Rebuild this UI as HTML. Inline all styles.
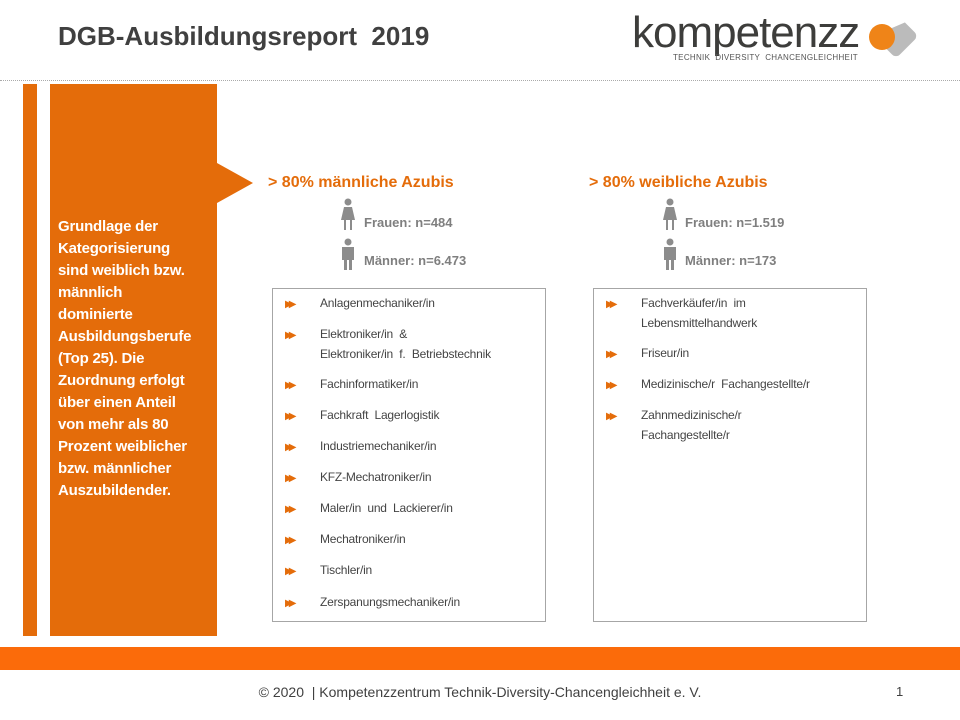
<!DOCTYPE html>
<html><head><meta charset="utf-8"><style>
body{margin:0;width:960px;height:720px;position:relative;background:#fff;font-family:"Liberation Sans",sans-serif;overflow:hidden}
.a{position:absolute}
.t{font-size:12px;color:#444;line-height:20px;letter-spacing:-0.2px}
.b{color:#e46c0a;font-size:10px;letter-spacing:-4px}
.h{font-weight:bold;color:#e46c0a;font-size:16px}
.n{font-weight:bold;color:#7f7f7f;font-size:13px}
</style></head><body>
<div class="a" style="left:58px;top:21px;font-size:26px;font-weight:bold;color:#404040">DGB-Ausbildungsreport&nbsp; 2019</div>
<div class="a" style="left:632px;top:10px;font-size:44px;color:#3d3d3b;letter-spacing:-1px;line-height:46px">kompetenzz</div>
<div class="a" style="left:673px;top:53px;font-size:8px;color:#555;letter-spacing:0.3px">TECHNIK&nbsp; DIVERSITY&nbsp; CHANCENGLEICHHEIT</div>
<div class="a" style="left:880px;top:20px;width:32px;height:32px;background:#bbb;transform:rotate(45deg);border-radius:6px;clip-path:polygon(40% 0,100% 0,100% 100%,0 100%)"></div>
<div class="a" style="left:869px;top:24px;width:26px;height:26px;border-radius:50%;background:#ef8418"></div>
<div class="a" style="left:0;top:80px;width:960px;border-top:1px dotted #aaa"></div>
<div class="a" style="left:23px;top:84px;width:14px;height:552px;background:#e46c0a"></div>
<div class="a" style="left:50px;top:84px;width:167px;height:552px;background:#e46c0a"></div>
<div class="a" style="left:217px;top:163px;width:0;height:0;border-top:20px solid transparent;border-bottom:20px solid transparent;border-left:36px solid #e46c0a"></div>
<div class="a" style="left:58px;top:216px;width:165px;color:#fff;font-weight:bold;font-size:15px;line-height:22px;letter-spacing:-0.2px;white-space:nowrap">Grundlage der<br>Kategorisierung<br>sind weiblich bzw.<br>männlich<br>dominierte<br>Ausbildungsberufe<br>(Top 25). Die<br>Zuordnung erfolgt<br>über einen Anteil<br>von mehr als 80<br>Prozent weiblicher<br>bzw. männlicher<br>Auszubildender.</div>

<div class="a h" style="left:268px;top:174px">&gt; 80% männliche Azubis</div>
<div class="a h" style="left:589px;top:174px">&gt; 80% weibliche Azubis</div>
<svg class="a" style="left:340px;top:198px" width="16" height="34"><circle cx="8" cy="4" r="3.5" fill="#8c8c8c"/><path d="M4 9h8l3 13h-3v10h-2v-10h-4v10h-2v-10h-3z" fill="#8c8c8c"/></svg>
<svg class="a" style="left:340px;top:238px" width="16" height="34"><circle cx="8" cy="4" r="3.5" fill="#8c8c8c"/><path d="M2 9h12v13h-2v10h-3v-10h-2v10h-3v-10h-2z" fill="#8c8c8c"/></svg>
<svg class="a" style="left:662px;top:198px" width="16" height="34"><circle cx="8" cy="4" r="3.5" fill="#8c8c8c"/><path d="M4 9h8l3 13h-3v10h-2v-10h-4v10h-2v-10h-3z" fill="#8c8c8c"/></svg>
<svg class="a" style="left:662px;top:238px" width="16" height="34"><circle cx="8" cy="4" r="3.5" fill="#8c8c8c"/><path d="M2 9h12v13h-2v10h-3v-10h-2v10h-3v-10h-2z" fill="#8c8c8c"/></svg>
<div class="a n" style="left:364px;top:215px">Frauen: n=484</div>
<div class="a n" style="left:364px;top:253px">Männer: n=6.473</div>
<div class="a n" style="left:685px;top:215px">Frauen: n=1.519</div>
<div class="a n" style="left:685px;top:253px">Männer: n=173</div>

<div class="a" style="left:272px;top:288px;width:272px;height:332px;border:1px solid #a6a6a6"></div>
<div class="a" style="left:593px;top:288px;width:272px;height:332px;border:1px solid #a6a6a6"></div>

<div class="a t" style="left:285px;top:293px;width:250px">
<div style="position:relative">
<div class="a" style="top:0"><span class="b">▶▶</span></div><div class="a" style="left:35px;top:0">Anlagenmechaniker/in</div>
<div class="a" style="top:31px"><span class="b">▶▶</span></div><div class="a" style="left:35px;top:31px">Elektroniker/in&nbsp; &amp;<br>Elektroniker/in&nbsp; f.&nbsp; Betriebstechnik</div>
<div class="a" style="top:81px"><span class="b">▶▶</span></div><div class="a" style="left:35px;top:81px">Fachinformatiker/in</div>
<div class="a" style="top:112px"><span class="b">▶▶</span></div><div class="a" style="left:35px;top:112px">Fachkraft&nbsp; Lagerlogistik</div>
<div class="a" style="top:143px"><span class="b">▶▶</span></div><div class="a" style="left:35px;top:143px">Industriemechaniker/in</div>
<div class="a" style="top:174px"><span class="b">▶▶</span></div><div class="a" style="left:35px;top:174px">KFZ-Mechatroniker/in</div>
<div class="a" style="top:205px"><span class="b">▶▶</span></div><div class="a" style="left:35px;top:205px">Maler/in&nbsp; und&nbsp; Lackierer/in</div>
<div class="a" style="top:236px"><span class="b">▶▶</span></div><div class="a" style="left:35px;top:236px">Mechatroniker/in</div>
<div class="a" style="top:267px"><span class="b">▶▶</span></div><div class="a" style="left:35px;top:267px">Tischler/in</div>
<div class="a" style="top:299px"><span class="b">▶▶</span></div><div class="a" style="left:35px;top:299px">Zerspanungsmechaniker/in</div>
</div></div>

<div class="a t" style="left:606px;top:293px;width:250px">
<div style="position:relative">
<div class="a" style="top:0"><span class="b">▶▶</span></div><div class="a" style="left:35px;top:0">Fachverkäufer/in&nbsp; im<br>Lebensmittelhandwerk</div>
<div class="a" style="top:50px"><span class="b">▶▶</span></div><div class="a" style="left:35px;top:50px">Friseur/in</div>
<div class="a" style="top:81px"><span class="b">▶▶</span></div><div class="a" style="left:35px;top:81px">Medizinische/r&nbsp; Fachangestellte/r</div>
<div class="a" style="top:112px"><span class="b">▶▶</span></div><div class="a" style="left:35px;top:112px">Zahnmedizinische/r<br>Fachangestellte/r</div>
</div></div>

<div class="a" style="left:0;top:647px;width:960px;height:23px;background:#fb6b0a"></div>
<div class="a" style="left:0;top:684px;width:960px;text-align:center;font-size:14px;color:#404040">© 2020&nbsp; | Kompetenzzentrum Technik-Diversity-Chancengleichheit e. V.</div>
<div class="a" style="left:896px;top:684px;font-size:13px;color:#404040">1</div>
</body></html>
